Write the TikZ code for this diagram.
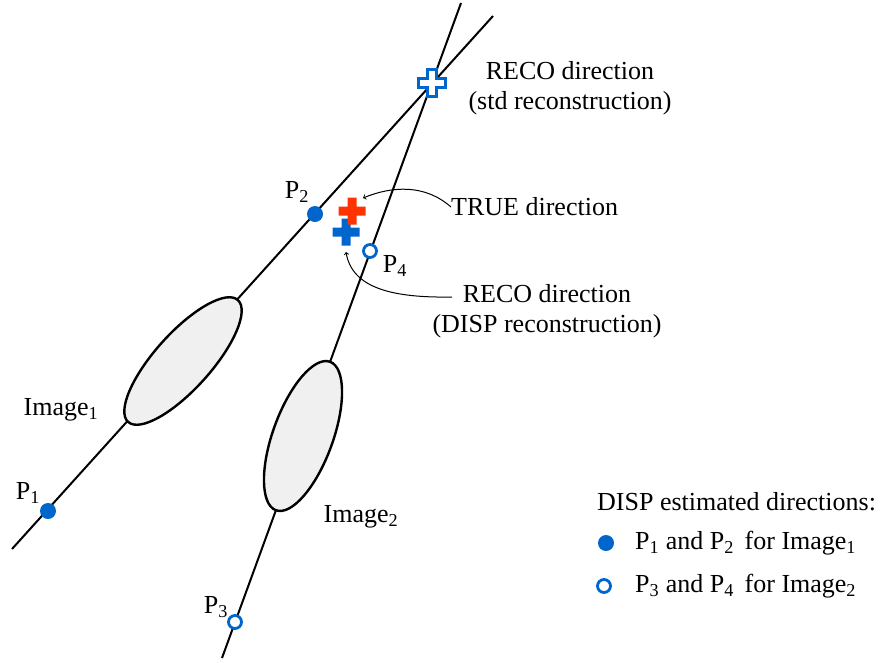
\documentclass[tikz,border=0pt]{standalone}
\usepackage{fontspec}
\setmainfont{Liberation Serif}
\usepackage{tikz}
\usepackage{xcolor}
\usetikzlibrary{calc}

\definecolor{dispblue}{RGB}{0,102,204}
\definecolor{truered}{RGB}{255,51,0}
\definecolor{imgfill}{RGB}{240,240,240}

\tikzset{
  axisline/.style={line width=2pt},
  imgblob/.style={draw, line width=2.4pt, fill=imgfill},
  pfull/.style={circle, fill=dispblue, inner sep=0pt, minimum size=16pt},
  popen/.style={circle, draw=dispblue, line width=2.8pt, fill=white, inner sep=0pt, minimum size=13pt},
  lbl/.style={inner sep=0pt},
  callout/.style={->, line width=1pt},
  plus/.pic={\path[pic actions] (-13.5,-4.5)--(-4.5,-4.5)--(-4.5,-13.5)--(4.5,-13.5)--(4.5,-4.5)--(13.5,-4.5)
      --(13.5,4.5)--(4.5,4.5)--(4.5,13.5)--(-4.5,13.5)--(-4.5,4.5)--(-13.5,4.5)--cycle;}
}

\begin{document}
\begin{tikzpicture}[x=1pt, y=-1pt, font=\fontsize{26}{29.5}\selectfont]
    \useasboundingbox (0,0) rectangle (885,662);

    % the two image axes
    \coordinate (a1) at (12,549);
    \coordinate (b1) at (493,16);
    \coordinate (a2) at (222,658);
    \coordinate (b2) at (461,3);
    \draw [axisline] (a1)--(b1);
    \draw [axisline] (a2)--(b2);

    % images
    \draw [imgblob, rotate around={48:(183,361)}] (183,361) ellipse [x radius=82, y radius=28];
    \draw [imgblob, rotate around={70:(303,436)}] (303,436) ellipse [x radius=79, y radius=30];
    \node[lbl] (img1) at (61,410) {Image\textsubscript{1}};
    \node[lbl] (img2) at (361,517) {Image\textsubscript{2}};

    % DISP points
    \node[pfull] (p1) at (48,511) {};
    \node[pfull] (p2) at (315,214) {};
    \node[popen] (p3) at (235,622) {};
    \node[popen] (p4) at (370,251) {};
    \node[lbl] (p1lbl) at (28,493) {P\textsubscript{1}};
    \node[lbl] (p2lbl) at (297,192) {P\textsubscript{2}};
    \node[lbl] (p3lbl) at (216,607) {P\textsubscript{3}};
    \node[lbl] (p4lbl) at (395,266) {P\textsubscript{4}};

    % directions
    \pic[draw=dispblue, fill=white, line width=2.6pt] at (432,83) {plus};
    \coordinate (recostd) at (432,83);
    \pic[fill=dispblue] at (346,232) {plus};
    \coordinate (recodisp) at (346,232);
    \pic[fill=truered] at (352,211) {plus};
    \coordinate (truedir) at (352,211);

    \node[lbl, align=center] (stdlbl) at (570,88) {RECO direction\\(std reconstruction)};
    \node[lbl, anchor=west] (truelbl) at (451,207) {TRUE direction};
    \node[lbl, align=center] (displbl) at (547,311) {RECO direction\\(DISP reconstruction)};
    \coordinate (dispstart) at (452,297);

    \draw [callout] (truelbl.west) .. controls (425,184) and (392,186) .. ($(truedir)+(11,-13)$);
    \draw [callout] (dispstart) .. controls (392,298) and (352,288) .. ($(recodisp)+(0,20)$);

    % legend
    \node[lbl, anchor=west] (legtitle) at (597,502) {DISP estimated directions:};
    \node[pfull] (legfull) at (606,543) {};
    \node[popen] (legopen) at (604,586) {};
    \node[lbl, anchor=west] (legfulltxt) at (635,543) {P\textsubscript{1} and P\textsubscript{2}\, for Image\textsubscript{1}};
    \node[lbl, anchor=west] (legopentxt) at (635,586) {P\textsubscript{3} and P\textsubscript{4}\, for Image\textsubscript{2}};
\end{tikzpicture}
\end{document}
